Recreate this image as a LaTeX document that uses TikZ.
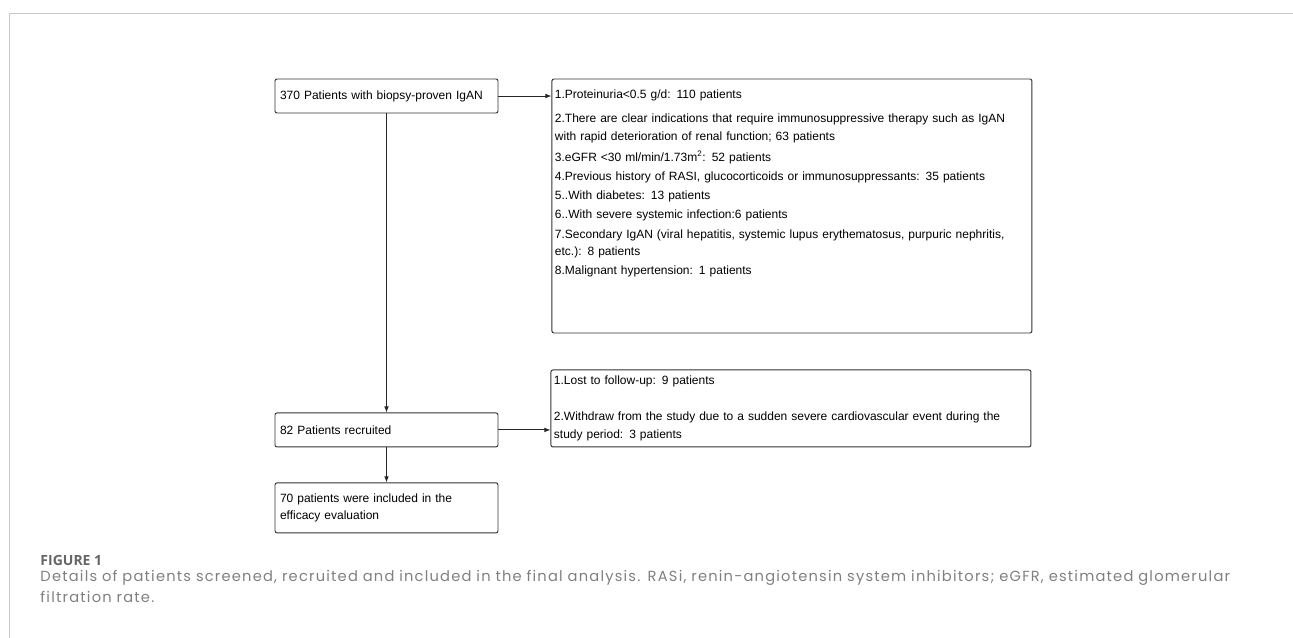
\documentclass[tikz,border=0pt]{standalone}
\usepackage{fontspec}
\setmainfont{Liberation Sans}
\newfontfamily\capfont[LetterSpace=8.2]{Poppins}
\newfontfamily\figfont{Open Sans}
\usetikzlibrary{positioning,arrows.meta}

\begin{document}
\begin{tikzpicture}[x=0.75pt, y=0.75pt, line width=0.7pt,
    main/.style = {draw=black!80, rounded corners=1.5pt, align=left, inner xsep=3.75pt, inner ysep=2pt,
      font=\fontsize{9}{13.2}\selectfont},
    side/.style = {main, text width=355.5pt, inner xsep=2.25pt},
    arr/.style = {draw=black!85, -{Latex[length=4.5pt,width=3.5pt]}}]
    \useasboundingbox (0,0) rectangle (1293,-638);
    \draw[black!22] (9,-638) -- (9,-13) -- (1293,-13);
    % left column
    \node[main, text width=159.75pt, minimum height=25.5pt] (1) at (386.5,-96) {370 Patients with biopsy-proven IgAN};
    \node[main, text width=159.75pt, minimum height=25.5pt] (2) [below=224.25pt of 1] {82 Patients recruited};
    \node[main, text width=159.75pt, minimum height=37.5pt] (3) [below=26.25pt of 2] {70 patients were included in the\\efficacy evaluation};
    % exclusions
    \node[side, text height=12.5pt, text depth=174pt, right=39.75pt of 1.north east, anchor=north west] (4) {1.Proteinuria<0.5 g/d: 110 patients\\[5pt]
      \mbox{2.There are clear indications that require immunosuppressive therapy such as IgAN}\\
      with rapid deterioration of renal function; 63 patients\\[3pt]
      3.eGFR <30 ml/min/1.73m\textsuperscript{2}: 52 patients\\[1.1pt]
      4.Previous history of RASI, glucocorticoids or immunosuppressants: 35 patients\\[1.1pt]
      5..With diabetes: 13 patients\\[1.1pt]
      6..With severe systemic infection:6 patients\\[1.1pt]
      \mbox{7.Secondary IgAN (viral hepatitis, systemic lupus erythematosus, purpuric nephritis,}\\
      etc.): 8 patients\\[1.1pt]
      8.Malignant hypertension: 1 patients};
    \node[side, minimum height=57.75pt, right=39pt of 2.south east, anchor=south west] (5) {1.Lost to follow-up: 9 patients\\[13.6pt]
      2.Withdraw from the study due to a sudden severe cardiovascular event during the\\
      study period: 3 patients};
    \draw[arr] (1.east) -- (1.east -| 4.west);
    \draw[arr] (1) -- (2);
    \draw[arr] (2) -- (3);
    \draw[arr] (2.east) -- (2.east -| 5.west);
    % caption
    \node[font=\figfont\bfseries\fontsize{10.5}{12}\selectfont, text=black!60, anchor=base west, inner sep=0pt] (fig) at (40,-565) {FIGURE 1};
    \node[font=\capfont\fontsize{11}{15.45}\selectfont, text=black!50, anchor=base west, inner sep=0pt,
      text width=940pt, align=left] (cap) at (40,-581.7) {Details of patients screened, recruited and included in the final analysis. RASi, renin-angiotensin system inhibitors; eGFR, estimated glomerular\\filtration rate.};
\end{tikzpicture}
\end{document}
